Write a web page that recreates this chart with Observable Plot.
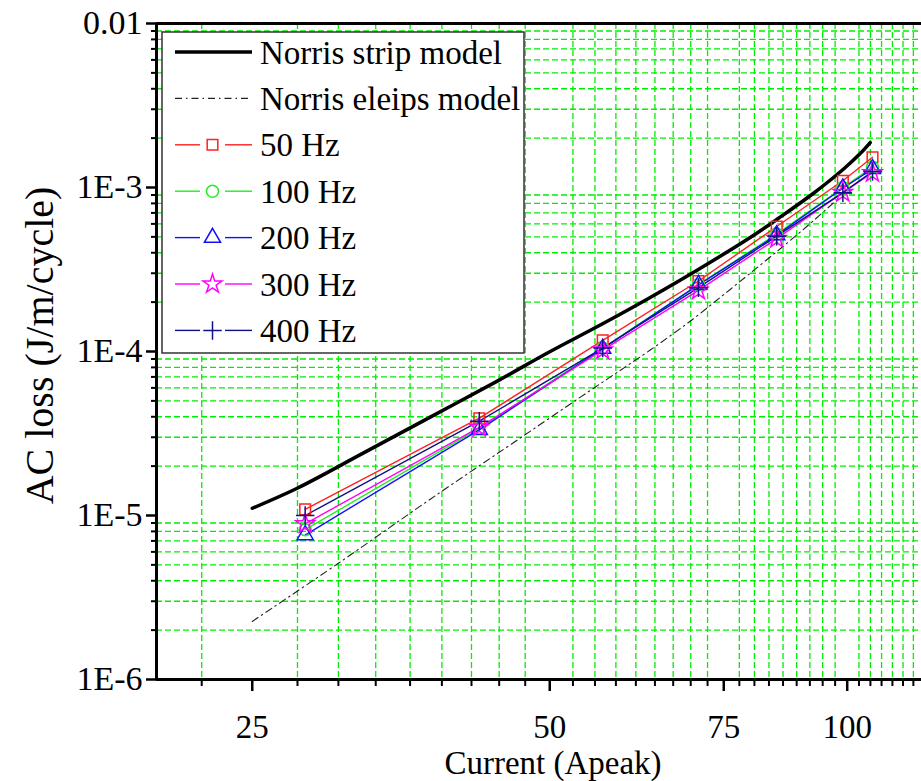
<!DOCTYPE html>
<html><head><meta charset="utf-8">
<script src="https://cdn.jsdelivr.net/npm/d3@7"></script>
<script src="https://cdn.jsdelivr.net/npm/@observablehq/plot@0.6"></script>
<style>
html,body{margin:0;padding:0;background:#fff;overflow:hidden}
#wrap{position:relative;width:921px;height:781px}
#wrap svg{position:absolute;left:0;top:0}
</style></head><body><div id="wrap"></div>
<script>
// ---------- data ----------
const currents = [28.28, 42.43, 56.57, 70.71, 84.85, 98.99, 106.07];
const seriesNames = ["50 Hz", "100 Hz", "200 Hz", "300 Hz", "400 Hz"];
const loss50  = [1.09e-5, 3.92e-5, 1.17e-4, 2.69e-4, 5.78e-4, 1.10e-3, 1.53e-3];
const loss100 = [8.2e-6, 3.40e-5, 1.05e-4, 2.56e-4, 5.20e-4, 1.00e-3, 1.33e-3];
const loss200 = [7.6e-6, 3.33e-5, 1.04e-4, 2.55e-4, 5.12e-4, 9.9e-4, 1.30e-3];
const loss300 = [8.9e-6, 3.45e-5, 1.02e-4, 2.36e-4, 4.88e-4, 9.3e-4, 1.23e-3];
const loss400 = [1.0e-5, 3.76e-5, 1.05e-4, 2.45e-4, 5.05e-4, 9.3e-4, 1.25e-3];
const seriesColors = ["#ff2020", "#22ee22", "#1010ff", "#ff00ff", "#10108a"];
const seriesSymbols = ["square", "circle", "triangle", "star", "plus"];

const stripCurrent = [25, 27.76, 32.37, 37.85, 44.25, 49.84, 56.62, 63.19, 70.68, 79.77, 85.14, 92.38, 99.30, 103.07, 105.5];
const stripLoss = [1.107e-5, 1.466e-5, 2.40e-5, 3.98e-5, 6.60e-5, 9.86e-5, 1.481e-4, 2.135e-4, 3.162e-4, 4.955e-4, 6.47e-4, 9.19e-4, 1.306e-3, 1.61e-3, 1.88e-3];
const ellipseCurrent = [25, 30.55, 37.85, 47.0, 53.7, 57.98, 63.2, 69.4, 75.6, 81.7, 87.0, 92.4, 98.4];
const ellipseLoss = [2.26e-6, 5.11e-6, 1.257e-5, 3.05e-5, 5.27e-5, 7.19e-5, 1.021e-4, 1.535e-4, 2.31e-4, 3.374e-4, 4.60e-4, 6.26e-4, 8.78e-4];

const xMajor = [25, 50, 75, 100];
const xTickLabels = ["25", "50", "75", "100"];
const yMajor = [1e-6, 1e-5, 1e-4, 1e-3, 1e-2];
const yTickLabels = ["1E-6", "1E-5", "1E-4", "1E-3", "0.01"];
const xDomain = [20, 118.9];
const yDomain = [1e-6, 1e-2];
const xTitle = "Current (Apeak)";
const yTitle = "AC loss (J/m/cycle)";
const legendLabels = ["Norris strip model", "Norris eleips model", ...seriesNames];

// ---------- derived tables ----------
const seriesLoss = [loss50, loss100, loss200, loss300, loss400];
const measured = [];
seriesNames.forEach((name, s) => currents.forEach((c, i) => measured.push({freq: name, I: c, Q: seriesLoss[s][i]})));
const strip = stripCurrent.map((c, i) => ({I: c, Q: stripLoss[i]}));
const ellipse = ellipseCurrent.map((c, i) => ({I: c, Q: ellipseLoss[i]}));

const xMinor = d3.range(1, 60).filter(k => k % 9 !== 0).map(k => 25 / 9 * k).filter(v => v > xDomain[0] && v < xDomain[1]);
const yMinor = [];
[1e-6, 1e-5, 1e-4, 1e-3].forEach(d => { for (let m = 2; m <= 9; m++) yMinor.push(m * d); });
const xLab = new Map(xMajor.map((v, i) => [v, xTickLabels[i]]));
const yLab = new Map(yMajor.map((v, i) => [v, yTickLabels[i]]));

const W = 921, H = 781;
const gridStyle = {stroke: "#00ee00", strokeOpacity: 1, strokeWidth: 1.3, strokeDasharray: "6,3"};

const chart = Plot.plot({
  width: W, height: H,
  marginLeft: 156, marginRight: 0, marginTop: 23, marginBottom: H - 679,
  x: {type: "log", domain: xDomain},
  y: {type: "log", domain: yDomain},
  color: {domain: seriesNames, range: seriesColors},
  symbol: {domain: seriesNames, range: seriesSymbols},
  style: {fontFamily: "'Liberation Serif', 'Times New Roman', serif", background: "white", color: "black", overflow: "visible"},
  marks: [
    Plot.gridX(xMinor, gridStyle),
    Plot.gridY(yMinor, gridStyle),
    Plot.line(ellipse, {x: "I", y: "Q", stroke: "#222", strokeWidth: 1.1, strokeDasharray: "7,4,1.5,4", curve: "catmull-rom"}),
    Plot.line(strip, {x: "I", y: "Q", stroke: "black", strokeWidth: 3.5, curve: "catmull-rom"}),
    Plot.line(measured, {x: "I", y: "Q", z: "freq", stroke: "freq", strokeWidth: 1.4}),
    Plot.dot(measured, {x: "I", y: "Q", symbol: "freq", stroke: "freq", fill: "none", r: 6, strokeWidth: 1.5}),
    Plot.axisX(xMajor, {tickSize: 12, tickPadding: 23, tickFormat: d => xLab.get(d), fontSize: 33, label: null, strokeWidth: 2.5}),
    Plot.axisX(xMinor, {tickSize: 7, tickFormat: () => "", label: null, strokeWidth: 2}),
    Plot.axisY(yMajor, {tickSize: 10, tickPadding: 4, tickFormat: d => yLab.get(d), fontSize: 34, label: null, strokeWidth: 2.5}),
    Plot.axisY(yMinor, {tickSize: 5, tickFormat: () => "", label: null, strokeWidth: 2}),
    Plot.ruleX([xDomain[0]], {strokeWidth: 3}),
    Plot.ruleY([yDomain[0]], {strokeWidth: 3}),
    Plot.ruleY([yDomain[1]], {strokeWidth: 3}),
    Plot.text([yTitle], {frameAnchor: "left", textAnchor: "middle", lineAnchor: "middle", rotate: -90, dx: -116, dy: -6, fontSize: 40}),
    Plot.text([xTitle], {frameAnchor: "bottom", textAnchor: "middle", lineAnchor: "bottom", dx: 14, dy: 94, fontSize: 33})
  ]
});
document.getElementById("wrap").appendChild(chart);

// ---------- legend (inside plot, top-left) ----------
const leg = d3.select("#wrap").append("svg").attr("width", W).attr("height", H)
  .style("font-family", "'Liberation Serif', 'Times New Roman', serif");
leg.append("rect").attr("x", 162).attr("y", 32).attr("width", 362).attr("height", 321)
  .attr("fill", "white").attr("stroke", "#333").attr("stroke-width", 1.5);
const symMap = {square: d3.symbolSquare, circle: d3.symbolCircle, triangle: d3.symbolTriangle, star: d3.symbolStar, plus: d3.symbolPlus};
legendLabels.forEach((lab, i) => {
  const cy = 52 + i * 46.4;
  const g = leg.append("g");
  if (i === 0) {
    g.append("line").attr("x1", 175).attr("x2", 252).attr("y1", cy).attr("y2", cy).attr("stroke", "black").attr("stroke-width", 3.5);
  } else if (i === 1) {
    g.append("line").attr("x1", 175).attr("x2", 252).attr("y1", cy).attr("y2", cy).attr("stroke", "#222").attr("stroke-width", 1.1).attr("stroke-dasharray", "7,4,1.5,4");
  } else {
    const s = i - 2, col = seriesColors[s];
    g.append("line").attr("x1", 175).attr("x2", 200).attr("y1", cy).attr("y2", cy).attr("stroke", col).attr("stroke-width", 1.4);
    g.append("line").attr("x1", 225).attr("x2", 252).attr("y1", cy).attr("y2", cy).attr("stroke", col).attr("stroke-width", 1.4);
    g.append("path").attr("transform", `translate(212.5,${cy})`)
      .attr("d", d3.symbol(symMap[seriesSymbols[s]], 36 * Math.PI)())
      .attr("fill", "none").attr("stroke", col).attr("stroke-width", 1.5);
  }
  g.append("text").attr("x", 260).attr("y", cy).attr("dy", "0.35em").attr("font-size", 33).attr("fill", "black").text(lab);
});
</script></body></html>
